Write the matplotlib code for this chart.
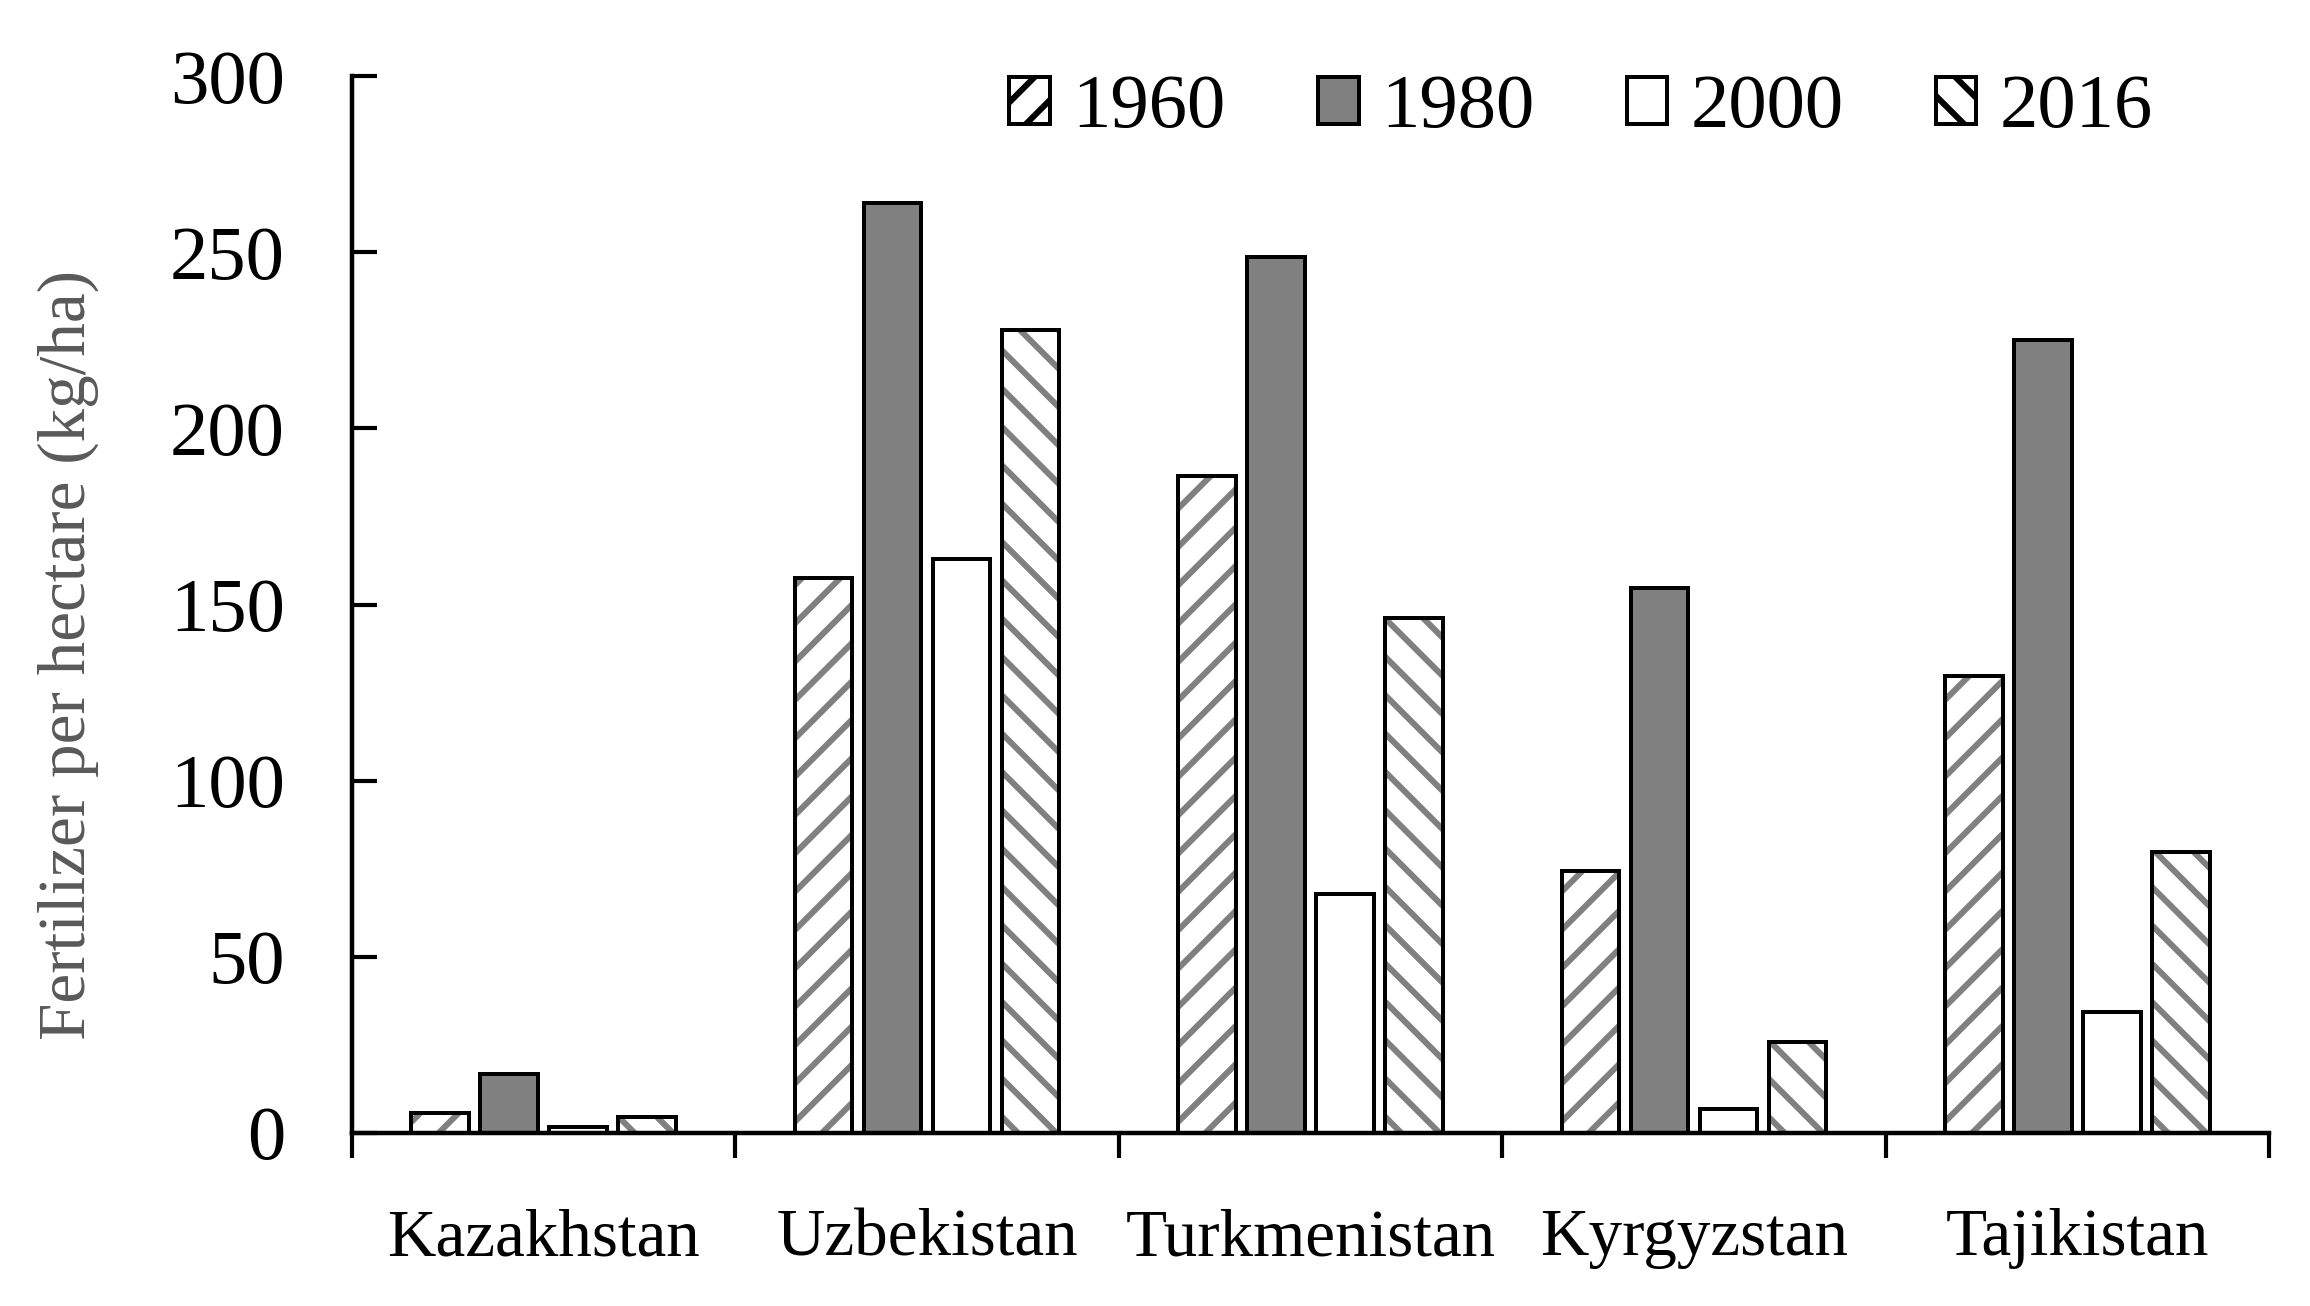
import matplotlib
matplotlib.use("Agg")
import matplotlib.pyplot as plt
from matplotlib.patches import Patch
import numpy as np

countries = ["Kazakhstan", "Uzbekistan", "Turkmenistan", "Kyrgyzstan", "Tajikistan"]
years = ["1960", "1980", "2000", "2016"]
v1960 = [5.6, 157.5, 186.4, 74.4, 129.8]
v1980 = [16.7, 264.0, 248.6, 154.6, 225.2]
v2000 = [1.6, 163.0, 67.7, 6.7, 34.3]
v2016 = [4.4, 228.0, 146.3, 25.9, 79.8]
series = [v1960, v1980, v2000, v2016]
yticks = [0, 50, 100, 150, 200, 250, 300]

DPI = 230
plt.rcParams['font.family'] = ['Liberation Serif', 'DejaVu Serif']
plt.rcParams['hatch.linewidth'] = 1.9
plt.rcParams['hatch.color'] = '#808080'

fig = plt.figure(figsize=(2310 / DPI, 1306 / DPI), dpi=DPI)
ax = fig.add_axes([352 / 2310, 1 - 1133 / 1306, (2269 - 352) / 2310, (1133 - 76) / 1306])

styles = [
    dict(fill='white', hatch='//'),
    dict(fill='#808080', hatch=None),
    dict(fill='white', hatch=None),
    dict(fill='white', hatch='\\\\'),
]

x = np.arange(len(countries))
step = 0.18
width = 0.15
handles = []
for i, (vals, st) in enumerate(zip(series, styles)):
    pos = x + (i - 1.5) * step
    ax.bar(pos, vals, width, color=st['fill'], edgecolor='#808080', linewidth=0,
           hatch=st['hatch'], zorder=2)
    ax.bar(pos, vals, width, fill=False, edgecolor='black', linewidth=1.25, zorder=3)
    handles.append(Patch(facecolor=st['fill'], edgecolor='black', linewidth=1.25,
                         hatch=st['hatch'], label=years[i]))

ax.set_xlim(-0.5, len(countries) - 0.5)
ax.set_ylim(0, 300)
ax.set_yticks(yticks)
ax.set_yticklabels([str(t) for t in yticks])

ax.set_xticks(np.arange(len(countries) + 1) - 0.5)
ax.set_xticklabels([])
ax.set_xticks(x, minor=True)
ax.set_xticklabels(countries, minor=True)

ax.tick_params(axis='y', direction='in', length=7.8, width=1.3, pad=21, labelsize=24,
               right=False)
ax.tick_params(axis='x', which='major', direction='out', length=7.8, width=1.3)
ax.tick_params(axis='x', which='minor', length=0, pad=23.5, labelsize=21)

for s in ['top', 'right']:
    ax.spines[s].set_visible(False)
for s in ['left', 'bottom']:
    ax.spines[s].set_linewidth(1.4)

ax.set_ylabel("Fertilizer per hectare (kg/ha)", fontsize=21, color='#595959')
ax.yaxis.set_label_coords((99 - 352) / (2269 - 352), 0.452)

fig.legend(handles=handles, loc='center left',
           bbox_to_anchor=(1009 / 2310, 1 - 109 / 1306),
           ncol=4, frameon=False, fontsize=24, handlelength=0.53,
           handleheight=0.575, handletextpad=0.3, columnspacing=1.2,
           borderpad=0, borderaxespad=0)

fig.savefig("out.png", dpi=DPI)
